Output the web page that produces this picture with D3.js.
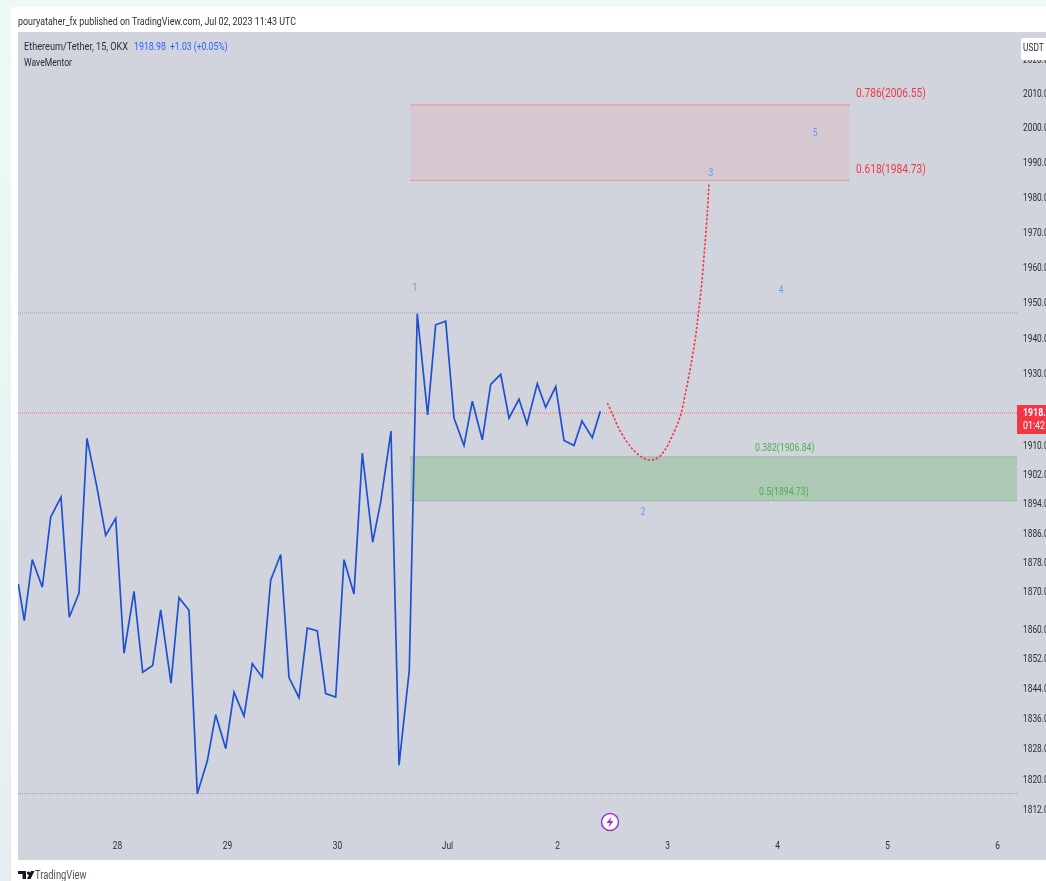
<!DOCTYPE html>
<html><head><meta charset="utf-8">
<style>html,body{margin:0;padding:0;background:#fff;overflow:hidden}svg{display:block;filter:blur(0.35px)}text{font-family:Roboto,sans-serif}</style>
<script src="https://cdnjs.cloudflare.com/ajax/libs/d3/7.8.5/d3.min.js"></script></head><body>
<script>
// hours since 28 Jun 00:00 UTC
const priceHours=[-21.53,-20.23,-18.48,-16.30,-14.47,-12.22,-10.41,-8.29,-6.55,-4.36,-2.47,-0.28,1.53,3.71,5.61,7.79,9.53,11.78,13.53,15.71,17.52,19.70,21.53,23.72,25.53,27.71,29.52,31.70,33.53,35.71,37.53,39.71,41.52,43.70,45.53,47.72,49.53,51.71,53.52,55.79,57.53,59.78,61.53,63.77,65.51,67.78,69.53,71.72,73.53,75.71,77.52,79.70,81.53,83.72,85.53,87.71,89.45,91.70,93.53,95.72,97.53,99.71,101.45,103.70,105.45];
const priceValues=[1871.9,1862.0,1878.5,1871.0,1890.1,1895.6,1862.9,1869.4,1911.8,1898.2,1885.1,1889.8,1853.2,1869.9,1848.1,1849.9,1864.9,1845.2,1868.2,1864.8,1815.9,1824.5,1836.8,1827.8,1842.8,1836.4,1850.4,1846.8,1872.9,1879.9,1846.7,1841.3,1860.0,1859.2,1842.4,1841.5,1878.5,1869.2,1907.7,1883.3,1894.2,1913.8,1823.4,1848.6,1946.6,1918.3,1943.5,1944.5,1917.4,1909.8,1922.1,1911.4,1926.8,1929.6,1917.4,1922.7,1915.8,1927.0,1920.4,1926.2,1911.2,1909.8,1916.6,1912.0,1919.3];
const forecastHours=[106.98,108.15,109.53,111.21,112.65,114.26,116.14,117.88,119.35,121.02,122.84,124.15,125.39,126.27,126.83,127.57,128.29,128.79,129.16];
const forecastValues=[1921.6,1918.4,1914.4,1910.9,1908.6,1906.8,1905.8,1906.3,1908.2,1912.1,1917.7,1925.1,1933.5,1940.5,1946.6,1955.1,1966.4,1975.0,1983.4];
const priceTicks=[2020,2010,2000,1990,1980,1970,1960,1950,1940,1930,1910,1902,1894,1886,1878,1870,1860,1852,1844,1836,1828,1820,1812];
const dayHours=[0,24,48,72,96,120,144,168,192];
const dayLabels=["28","29","30","Jul","2","3","4","5","6"];
const hLevels=[1946.8,1918.8,1815.9];
const hLevelColors=["#9a9ea8","#ee6f7c","#9a9ea8"];
const fibValues=[2006.55,1984.73,1906.84,1894.73];
const waveLabels=["1","2","3","4","5"];
const waveHours=[65.0,114.8,129.6,144.9,152.3];
const wavePrices=[1953.9,1891.5,1986.5,1953.3,1998.2];

const W=1046,H=881,paneL=18,paneR=1017,paneT=33,paneB=860;
const svg=d3.select("body").append("svg").attr("width",W).attr("height",H);
const defs=svg.append("defs");
const grad=defs.append("linearGradient").attr("id","bg").attr("x1",0).attr("x2",0).attr("y1",0).attr("y2",1);
grad.append("stop").attr("offset",0).attr("stop-color","#ecfaf5");
grad.append("stop").attr("offset",1).attr("stop-color","#e6edf2");
defs.append("clipPath").attr("id","pane").append("rect").attr("x",paneL).attr("y",paneT).attr("width",paneR-paneL).attr("height",paneB-paneT);

const x=d3.scaleLinear().domain([0,24]).range([117,227]);
const y=d3.scaleLog().domain([1812,2010]).range([808.5,92.5]);
const COND=0.76;
function squeeze(sel,f){sel.each(function(){const n=this.getComputedTextLength();
  d3.select(this).attr("textLength",n*(f||COND)).attr("lengthAdjust","spacingAndGlyphs");});return sel;}
function label(g,str,px,py,size,fill,opts={}){const t=g.append("text").attr("x",px).attr("y",py).attr("font-size",size).attr("fill",fill).attr("dominant-baseline","middle").attr("text-anchor",opts.anchor||"start").attr("font-weight",opts.weight||400).text(str);squeeze(t,opts.f);return t;}

// page
svg.append("rect").attr("width",W).attr("height",H).attr("fill","url(#bg)");
svg.append("rect").attr("x",11).attr("y",7).attr("width",W-11).attr("height",H-7).attr("fill","#fff");
svg.append("rect").attr("x",paneL).attr("y",paneT-1).attr("width",W-paneL).attr("height",paneB-paneT+1).attr("fill","#d1d4dd");

label(svg,"pouryataher_fx published on TradingView.com, Jul 02, 2023 11:43 UTC",18,22,11,"#2a2e39",{f:.81});

const plot=svg.append("g").attr("clip-path","url(#pane)");
// fib boxes
const boxes=[[64.0,159.9,fibValues[0],fibValues[1],"#d6c8d1","#e8606c"],[64.0,200,fibValues[2],fibValues[3],"#adc9b6","#6fa67a"]];
boxes.forEach(b=>{
  plot.append("rect").attr("x",x(b[0])).attr("width",x(b[1])-x(b[0])).attr("y",y(b[2])+0.5).attr("height",y(b[3])-y(b[2])).attr("fill",b[4]);
  [b[2],b[3]].forEach(v=>plot.append("line").attr("x1",x(b[0])).attr("x2",x(b[1])).attr("y1",y(v)+0.5).attr("y2",y(v)+0.5).attr("stroke",b[5]).attr("stroke-dasharray","1 1").attr("stroke-width",1));
});
// horizontal levels
hLevels.forEach((v,i)=>plot.append("line").attr("x1",paneL).attr("x2",paneR).attr("y1",y(v)).attr("y2",y(v)).attr("stroke",hLevelColors[i]).attr("stroke-width",1).attr("stroke-dasharray","1 1"));
// price line
const line=d3.line().x(d=>x(d[0])).y(d=>y(d[1]));
plot.append("path").attr("d",line(d3.zip(priceHours,priceValues))).attr("fill","none").attr("stroke","#1f50d2").attr("stroke-width",1.7).attr("stroke-linejoin","miter");
// forecast
plot.append("path").attr("d",line.curve(d3.curveCatmullRom)(d3.zip(forecastHours,forecastValues))).attr("fill","none").attr("stroke","#f23645").attr("stroke-width",1.6).attr("stroke-dasharray","2.4 1.8");

// fib labels
label(svg,"0.786(2006.55)",856,94,12,"#f23645",{f:.85});
label(svg,"0.618(1984.73)",856,170,12,"#f23645",{f:.85});
label(svg,"0.382(1906.84)",755,448,11,"#4caf50",{f:.79});
label(svg,"0.5(1894.73)",759,492,11,"#4caf50",{f:.79});
// wave labels
waveLabels.forEach((s,i)=>label(svg,s,x(waveHours[i]),y(wavePrices[i]),10,"#5b9cf6",{anchor:"middle",f:.85}));

// legend
label(svg,"Ethereum/Tether, 15, OKX",24,47,11,"#2a2e39",{f:.83});
label(svg,"1918.98",134,47,11,"#2962ff",{f:.8});
label(svg,"+1.03 (+0.05%)",170,47,11,"#2962ff",{f:.78});
label(svg,"WaveMentor",24,63,11,"#2a2e39",{f:.78});

// price axis
const yAxis=svg.append("g").attr("transform",`translate(${paneR},0.5)`).call(d3.axisRight(y).tickValues(priceTicks).tickFormat(d3.format(".2f")).tickSize(0).tickPadding(6));
yAxis.select(".domain").remove();
yAxis.selectAll("text").attr("font-family","Roboto,sans-serif").attr("font-size",11).attr("fill","#2a2e39").attr("dy",".32em").call(squeeze);

// time axis
const xAxis=svg.append("g").attr("transform","translate(0,841)").call(d3.axisBottom(x).tickValues(dayHours).tickFormat((d,i)=>dayLabels[i]).tickSize(0).tickPadding(0));
xAxis.select(".domain").remove();
xAxis.selectAll("text").attr("font-family","Roboto,sans-serif").attr("font-size",11).attr("fill","#2a2e39").attr("dy","0.71em").call(squeeze);

// USDT button
svg.append("rect").attr("x",1021).attr("y",38).attr("width",32).attr("height",22).attr("rx",3).attr("fill","#fff");
label(svg,"USDT",1023,48.5,11,"#2a2e39");
// last price tag
svg.append("rect").attr("x",paneR).attr("y",405).attr("width",W-paneR).attr("height",29).attr("fill","#f23645");
label(svg,"1918.98",1023,413.5,11,"#fff",{weight:700,f:.8});
label(svg,"01:42",1023,426.5,11,"#fff",{f:.8});

// event badge
svg.append("circle").attr("cx",610).attr("cy",822).attr("r",8.5).attr("fill","#fff").attr("stroke","#a42fc9").attr("stroke-width",1.5);
svg.append("path").attr("d","M611.5 816.5L606.5 823H609.8L608.5 827.5L613.5 821H610.2Z").attr("fill","#a42fc9");

// footer logo
svg.append("path").attr("d","M18 871H26V879H22.5V874H18ZM28.5 871.5a1.6 1.6 0 1 1-.01 0ZM31 871H34.5L30.5 879H27Z").attr("fill","#131722");
label(svg,"TradingView",35,876,12,"#50535e",{f:.78});
</script></body></html>
